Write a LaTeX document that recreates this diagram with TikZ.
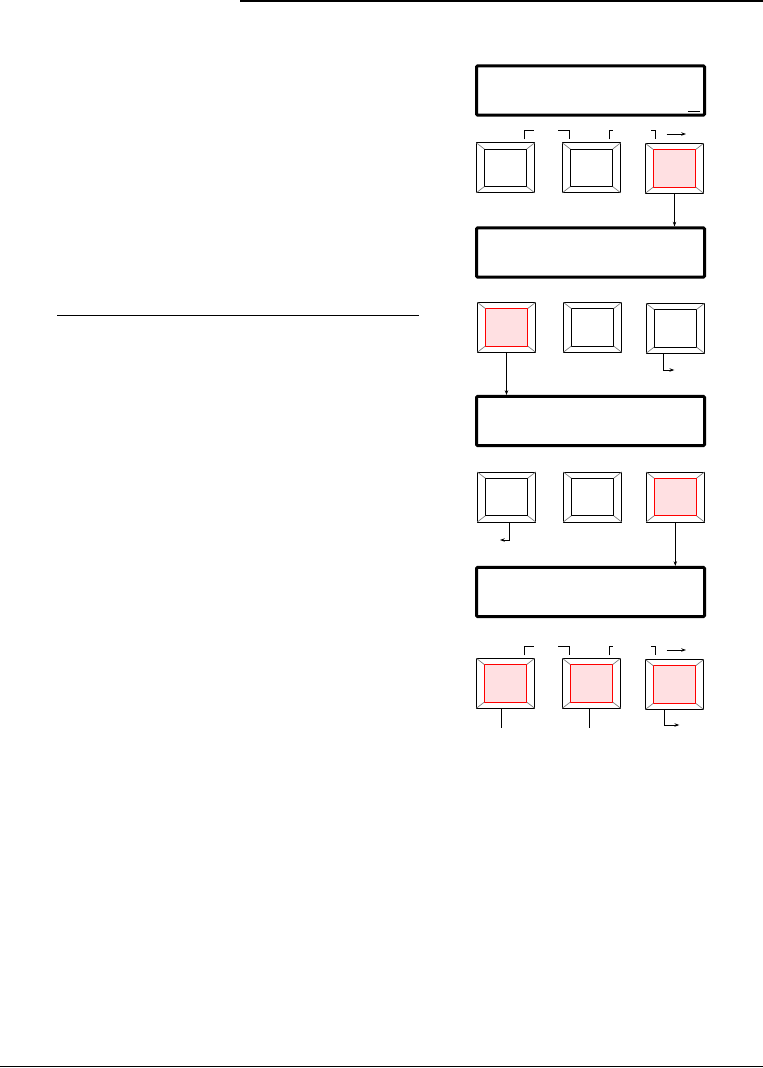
\documentclass[tikz,border=0pt]{standalone}
\usepackage{tikz}
\usetikzlibrary{arrows.meta, positioning}

\definecolor{keypink}{RGB}{255,224,226}
\definecolor{bevelgray}{RGB}{120,120,120}

% one front-panel key: outer frame, inner face and the four bevel lines
\newcommand{\keybtn}[4]{%
  \node[keyouter] (#1) at (#2,#3) {};
  \node[#4] (#1i) at (#2,#3) {};
  \foreach \c in {north east, north west, south east, south west}
    \draw[bevel] (#1.\c) -- (#1i.\c);
}

\begin{document}
\begin{tikzpicture}[
  x=0.75pt, y=-0.75pt,
  display/.style={draw, line width=2.25pt, rounded corners=0.8pt, inner sep=0pt, outer sep=1.1pt, minimum width=171pt, minimum height=36.8pt},
  keyouter/.style={draw, line width=0.75pt, inner sep=0pt, outer sep=0pt, minimum width=43.8pt, minimum height=37.5pt},
  keyface/.style={draw, line width=0.75pt, inner sep=0pt, outer sep=0pt, minimum width=31.8pt, minimum height=28.2pt},
  keylit/.style={keyface, draw=red, fill=keypink},
  bevel/.style={draw=bevelgray, line width=0.5pt},
  mark line/.style={line width=0.75pt},
  >={Stealth[length=3.6pt, width=2.6pt]}
]
\useasboundingbox (0,0) rectangle (763,1068);

% page rules
\draw[line width=1.1pt] (240,0.8) -- (763,0.8);
\draw[line width=0.9pt] (57,315.3) -- (419,315.3);
\draw[line width=1.1pt] (0,1066.6) -- (763,1066.6);

% displays
\node[display] (d1) at (590.5,90.5) {};
\node[display] (d2) at (590.5,252.5) {};
\node[display] (d3) at (590.5,421) {};
\node[display] (d4) at (590.5,592) {};
\draw[mark line] (687.7,111.3) -- (700,111.3);

% keys
\keybtn{k11}{505.5}{167.8}{keyface}
\keybtn{k12}{591.5}{167.8}{keyface}
\keybtn{k13}{674.5}{168.3}{keylit}
\keybtn{k21}{506.5}{327.3}{keylit}
\keybtn{k22}{592.5}{327.3}{keyface}
\keybtn{k23}{675.3}{328.3}{keyface}
\keybtn{k31}{506.5}{497}{keyface}
\keybtn{k32}{592.5}{497}{keyface}
\keybtn{k33}{675.3}{497}{keylit}
\keybtn{k41}{505.5}{683.3}{keylit}
\keybtn{k42}{591.5}{683.3}{keylit}
\keybtn{k43}{674.5}{684.5}{keylit}

% brackets and arrows over the keys
\foreach \y/\r in {130/1, 646/4} {
  \draw[mark line] (524.3,\y+9.3) -- (524.3,\y) -- (534,\y);
  \draw[mark line] (558.3,\y) -- (569.3,\y) -- (569.3,\y+9.3);
  \draw[mark line] (609.3,\y+9.3) -- (609.3,\y) -- (613,\y);
  \draw[mark line] (651,\y) -- (655.3,\y) -- (655.3,\y+9.3);
  \coordinate (a\r s) at (666.7,\y+4);
  \coordinate (a\r e) at (686,\y+4);
  \draw[->, mark line] (a\r s) -- (a\r e);
}

% key to display
\draw[->, mark line] (k13.south) -- (k13.south |- d2.north);
\draw[->, mark line] (k21.south) -- (k21.south |- d3.north);
\draw[->, mark line] (k33.south) -- (k33.south |- d4.north);

% bent exits
\coordinate (e23) at (674.3,370);
\draw[->, mark line] ([xshift=-9pt]k23.south) |- (e23);
\coordinate (e31) at (500,540);
\draw[->, mark line] ([xshift=2.2pt]k31.south) |- (e31);
\coordinate (e43) at (679.3,725);
\draw[->, mark line] ([xshift=-7.7pt]k43.south) |- (e43);
\coordinate (e41) at (501.3,728.3);
\draw[mark line] (e41 |- k41.south) -- (e41);
\coordinate (e42) at (589.3,728.3);
\draw[mark line] (e42 |- k42.south) -- (e42);
\end{tikzpicture}
\end{document}
